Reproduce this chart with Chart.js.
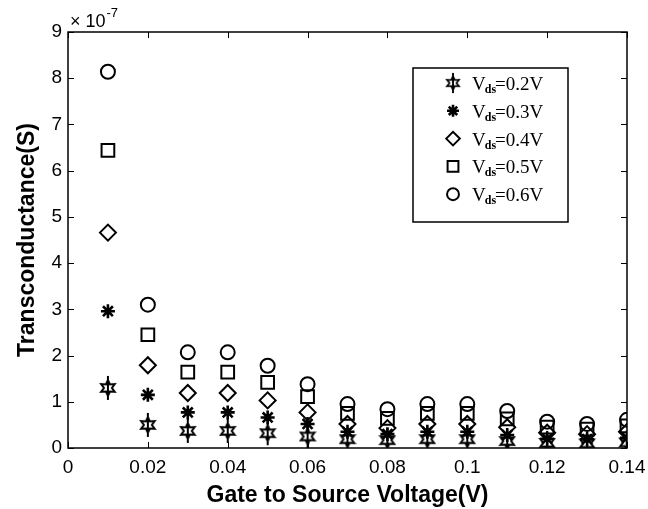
<!DOCTYPE html>
<html>
<head>
<meta charset="utf-8">
<script src="https://cdn.jsdelivr.net/npm/chart.js@4/dist/chart.umd.min.js"></script>
<style>
html,body{margin:0;padding:0;background:#fff;}
#box{width:648px;height:509px;}
</style>
</head>
<body>
<div id="box"><canvas id="myChart"></canvas></div>
<script>
'use strict'
// gate to source voltage (V)
let vgs=[0.01,0.02,0.03,0.04,0.05,0.06,0.07,0.08,0.09,0.10,0.11,0.12,0.13,0.14];
// transconductance, in units of 1e-7 S
let gm02=[1.30,0.50,0.37,0.37,0.32,0.25,0.19,0.17,0.19,0.19,0.15,0.11,0.10,0.12];
let gm03=[2.96,1.15,0.77,0.77,0.66,0.52,0.35,0.30,0.35,0.35,0.28,0.20,0.19,0.22];
let gm04=[4.66,1.79,1.19,1.19,1.03,0.77,0.52,0.43,0.52,0.52,0.45,0.33,0.30,0.35];
let gm05=[6.44,2.45,1.64,1.64,1.42,1.11,0.75,0.64,0.75,0.75,0.63,0.45,0.41,0.48];
let gm06=[8.14,3.10,2.07,2.07,1.78,1.38,0.95,0.84,0.95,0.95,0.80,0.57,0.52,0.61];
let vdsLabels=['0.2V','0.3V','0.4V','0.5V','0.6V'];
let xTicks=[0,0.02,0.04,0.06,0.08,0.1,0.12,0.14];
let yTicks=[0,1,2,3,4,5,6,7,8,9];

// six pointed star with a stem through it
function hexagram(){
    let c=document.createElement('canvas');
    c.width=18;c.height=26;
    let g=c.getContext('2d');
    let cx=9,cy=13,ro=7.8,ri=4;
    g.strokeStyle='#000';
    g.lineWidth=2;
    g.beginPath();
    for(let i=0;i<12;i++){
        let a=-Math.PI/2+i*Math.PI/6;
        let r=(i%2===0)?ro:ri;
        let px=cx+r*Math.cos(a),py=cy+r*Math.sin(a);
        if(i===0)g.moveTo(px,py);else g.lineTo(px,py);
    }
    g.closePath();
    g.stroke();
    g.beginPath();
    g.moveTo(cx,1);g.lineTo(cx,25);
    g.stroke();
    return c;
}
let starImg=hexagram();

let styles=[
    {pointStyle:starImg,radius:8,borderWidth:2},
    {pointStyle:'star',radius:7,borderWidth:2.6},
    {pointStyle:'rectRot',radius:8,borderWidth:2},
    {pointStyle:'rect',radius:9,borderWidth:2},
    {pointStyle:'circle',radius:7,borderWidth:2}
];
let series=[gm02,gm03,gm04,gm05,gm06];

let datasets=series.map((s,k)=>({
    label:'Vds='+vdsLabels[k],
    data:s.map((v,i)=>({x:vgs[i],y:v})),
    showLine:false,
    pointStyle:styles[k].pointStyle,
    pointRadius:styles[k].radius,
    pointHoverRadius:styles[k].radius,
    pointBorderWidth:styles[k].borderWidth,
    borderColor:'#000',
    backgroundColor:'rgba(0,0,0,0)'
}));

// box, inward ticks, exponent and legend
let matlabLook={
    id:'matlabLook',
    afterDraw(chart){
        let ctx=chart.ctx;
        let a=chart.chartArea;
        let xs=chart.scales.x,ys=chart.scales.y;
        ctx.save();
        ctx.strokeStyle='#000';
        ctx.lineWidth=1.5;
        ctx.strokeRect(a.left,a.top,a.right-a.left,a.bottom-a.top);
        ctx.beginPath();
        xTicks.forEach(v=>{
            let px=Math.round(xs.getPixelForValue(v))+0.5;
            ctx.moveTo(px,a.bottom);ctx.lineTo(px,a.bottom-6);
            ctx.moveTo(px,a.top);ctx.lineTo(px,a.top+6);
        });
        yTicks.forEach(v=>{
            let py=Math.round(ys.getPixelForValue(v))+0.5;
            ctx.moveTo(a.left,py);ctx.lineTo(a.left+6,py);
            ctx.moveTo(a.right,py);ctx.lineTo(a.right-6,py);
        });
        ctx.lineWidth=1;
        ctx.stroke();

        // exponent label
        ctx.fillStyle='#000';
        ctx.textBaseline='alphabetic';
        ctx.textAlign='left';
        ctx.font='18px "Liberation Sans"';
        ctx.fillText('\u00d7 10',a.left+2,a.top-5);
        let w=ctx.measureText('\u00d7 10').width;
        ctx.font='13px "Liberation Sans"';
        ctx.fillText('-7',a.left+3+w,a.top-15);

        // legend
        let lx=413,ly=68,lw=155,lh=154;
        ctx.fillStyle='#fff';
        ctx.fillRect(lx,ly,lw,lh);
        ctx.lineWidth=1.5;
        ctx.strokeRect(lx,ly,lw,lh);
        chart.data.datasets.forEach((ds,k)=>{
            let y=ly+15+k*27.8;
            let st=styles[k];
            ctx.strokeStyle='#000';
            ctx.fillStyle='rgba(0,0,0,0)';
            ctx.lineWidth=st.borderWidth;
            if(k===0){
                ctx.drawImage(starImg,453-8,y-11,16,22);
            }else{
                Chart.helpers.drawPoint(ctx,{pointStyle:st.pointStyle,radius:st.radius*0.85,rotation:0,borderWidth:st.borderWidth},453,y);
            }
            ctx.fillStyle='#000';
            ctx.font='19px "Liberation Serif"';
            let tx=472;
            ctx.fillText('V',tx,y+7);
            tx+=ctx.measureText('V').width-1;
            ctx.font='bold 12px "Liberation Serif"';
            ctx.fillText('ds',tx,y+10);
            tx+=ctx.measureText('ds').width-1;
            ctx.font='19px "Liberation Serif"';
            ctx.fillText('='+vdsLabels[k],tx,y+7);
        });
        ctx.restore();
    }
};

let ctx=document.getElementById('myChart').getContext('2d');
let myChart=new Chart(ctx,{
    type:'scatter',
    data:{datasets:datasets},
    options:{
        responsive:true,
        maintainAspectRatio:false,
        animation:false,
        layout:{padding:{top:32,right:0,left:0,bottom:0}},
        plugins:{legend:{display:false},tooltip:{enabled:false}},
        scales:{
            x:{
                type:'linear',min:0,max:0.14,
                afterBuildTicks:(s)=>{s.ticks=xTicks.map(v=>({value:v}));},
                afterFit:(s)=>{s.height=61;s.paddingRight=21;s.paddingLeft=0;},
                grid:{display:false,drawTicks:false},
                border:{display:false},
                ticks:{
                    color:'#000',padding:8,maxRotation:0,autoSkip:false,
                    font:{family:'"Liberation Sans"',size:19},
                    callback:(v)=>String(parseFloat(Number(v).toFixed(2)))
                },
                title:{display:true,text:'Gate to Source Voltage(V)',color:'#000',
                    font:{family:'"Liberation Sans"',size:23,weight:'bold'},padding:{top:2,bottom:0}}
            },
            y:{
                type:'linear',min:0,max:9,
                afterBuildTicks:(s)=>{s.ticks=yTicks.map(v=>({value:v}));},
                afterFit:(s)=>{s.width=68;s.paddingTop=0;s.paddingBottom=0;},
                grid:{display:false,drawTicks:false},
                border:{display:false},
                ticks:{
                    color:'#000',padding:6,autoSkip:false,
                    font:{family:'"Liberation Sans"',size:19}
                },
                title:{display:true,text:'Transconductance(S)',color:'#000',
                    font:{family:'"Liberation Sans"',size:23,weight:'bold'},padding:{top:14,bottom:0}}
            }
        }
    },
    plugins:[matlabLook]
});
</script>
</body>
</html>
